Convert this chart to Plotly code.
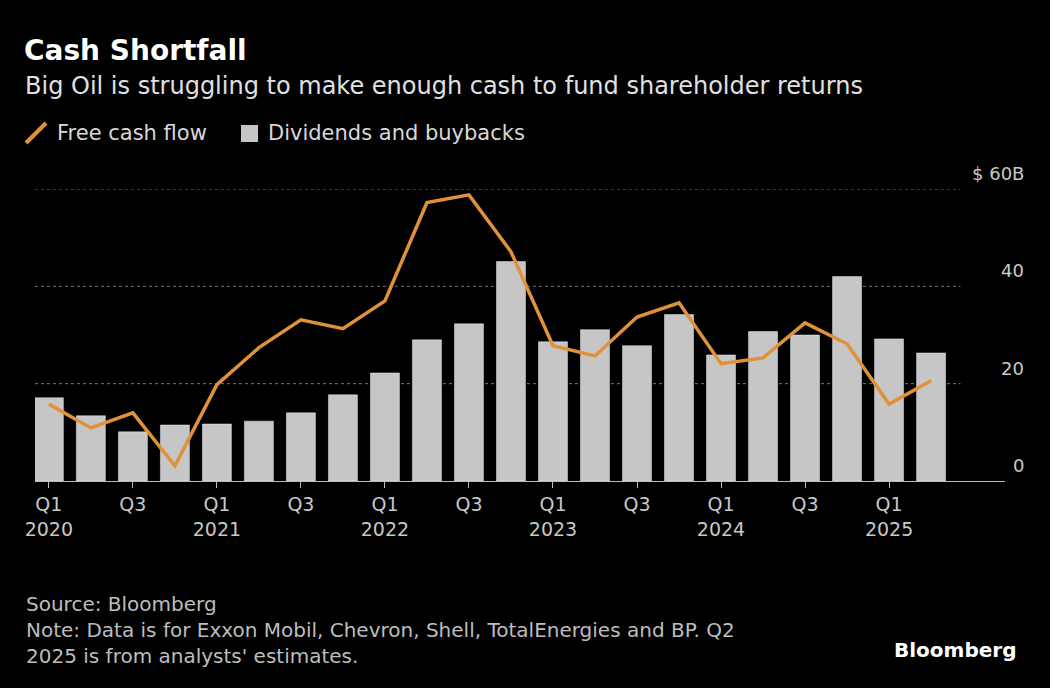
import plotly.graph_objects as go

quarters = ["Q1 2020","Q2 2020","Q3 2020","Q4 2020","Q1 2021","Q2 2021","Q3 2021","Q4 2021",
            "Q1 2022","Q2 2022","Q3 2022","Q4 2022","Q1 2023","Q2 2023","Q3 2023","Q4 2023",
            "Q1 2024","Q2 2024","Q3 2024","Q4 2024","Q1 2025","Q2 2025"]
dividends_buybacks = [17.1,13.4,10.1,11.5,11.7,12.3,14.0,17.7,22.2,29.0,32.3,45.1,
                      28.6,31.1,27.8,34.2,25.9,30.7,30.0,42.0,29.2,26.3]
free_cash_flow = [15.8,10.9,14.0,3.1,19.8,27.4,33.1,31.3,37.0,57.2,58.8,47.1,
                  27.8,25.7,33.7,36.6,24.1,25.3,32.5,28.2,15.8,20.6]
tick_idx = [0,2,4,6,8,10,12,14,16,18,20]
tick_text = ["Q1<br>2020","Q3","Q1<br>2021","Q3","Q1<br>2022","Q3","Q1<br>2023","Q3","Q1<br>2024","Q3","Q1<br>2025"]
y_ticks = [0,20,40,60]
y_labels = ["0","20","40","$ 60B"]

x = list(range(len(quarters)))
font = "DejaVu Sans, sans-serif"
L, R, T, B = 35, 45, 189, 207
W, H = 1050, 688

def px(xp, yp):
    return (xp - L) / (W - L - R), (H - B - yp) / (H - T - B)

fig = go.Figure()
fig.add_trace(go.Bar(x=x, y=dividends_buybacks, marker_color="#c6c6c6", width=0.69, name="Dividends and buybacks"))
fig.add_trace(go.Scatter(x=x, y=free_cash_flow, mode="lines", line=dict(color="#e0923a", width=3.5), name="Free cash flow"))

for v, lab in zip(y_ticks, y_labels):
    if v > 0:
        fig.add_shape(type="line", x0=-0.33, x1=21.7, y0=v, y1=v, xref="x", yref="y",
                      line=dict(color="#777", width=1, dash="dot"), layer="below")
    fig.add_annotation(x=px(1026, 0)[0], xref="paper", y=v, yref="y", text=lab, showarrow=False,
                       xanchor="right", yanchor="bottom", yshift=3, font=dict(size=18, color="#c8c8c8", family=font))

fig.update_layout(
    width=W, height=H, paper_bgcolor="black", plot_bgcolor="black",
    margin=dict(l=L, r=R, t=T, b=B), showlegend=False, bargap=0.3,
    font=dict(family=font, color="#c8c8c8"),
    xaxis=dict(range=[-0.33, 22.76], tickvals=tick_idx, ticktext=tick_text, showgrid=False,
               showline=True, linecolor="#bbb", linewidth=1, ticks="outside", ticklen=6, tickcolor="#bbb",
               tickfont=dict(size=19, color="#c8c8c8")),
    yaxis=dict(range=[0, 60], showgrid=False, showticklabels=False, zeroline=False),
)

def ann(xp, yp, text, size, color, anchor="left", yanchor="middle"):
    fx, fy = px(xp, yp)
    fig.add_annotation(x=fx, y=fy, xref="paper", yref="paper", text=text, showarrow=False,
                       xanchor=anchor, yanchor=yanchor, align="left", font=dict(size=size, color=color, family=font))

ann(22, 50, "<b>Cash Shortfall</b>", 28, "white")
ann(23, 86, "Big Oil is struggling to make enough cash to fund shareholder returns", 24, "#e0e0e0")
fig.add_shape(type="line", xref="paper", yref="paper", x0=px(26,0)[0], x1=px(46,0)[0],
              y0=px(0,143)[1], y1=px(0,123)[1], line=dict(color="#e0923a", width=4))
ann(55, 133, "Free cash flow", 21, "#d8d8d8")
fig.add_shape(type="rect", xref="paper", yref="paper", x0=px(241,0)[0], x1=px(258,0)[0],
              y0=px(0,142)[1], y1=px(0,125)[1], fillcolor="#c6c6c6", line=dict(width=0))
ann(266, 133, "Dividends and buybacks", 21, "#d8d8d8")
ann(24, 590, "Source: Bloomberg<br>Note: Data is for Exxon Mobil, Chevron, Shell, TotalEnergies and BP. Q2<br>2025 is from analysts' estimates.",
    20, "#bdbdbd", yanchor="top")
ann(1018, 650, "<b>Bloomberg</b>", 20, "white", anchor="right")

fig.write_html("out.html", config={"displayModeBar": False})
with open("out.html") as f:
    html = f.read()
html = html.replace("<head>", "<head><style>html,body{margin:0;padding:0;background:black;}</style>", 1)
with open("out.html", "w") as f:
    f.write(html)
